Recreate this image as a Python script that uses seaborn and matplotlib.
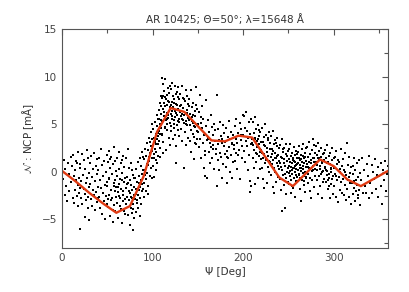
import matplotlib
matplotlib.use("Agg")
import matplotlib.pyplot as plt
from matplotlib.ticker import MultipleLocator
import seaborn as sns
import pandas as pd

# ---- scatter data (Psi [deg], NCP [mA]), per 10-degree bin ----
psi = [
    0.6, 1.8, 2.9, 3.7, 4.5, 5.6, 6.3, 7.4, 8.2, 9.5,
    10.3, 10.9, 11.7, 12.2, 12.8, 13.5, 14.1, 14.6, 15.2, 15.9,
    16.4, 16.9, 17.3, 17.8, 18.2, 18.7, 19.1, 19.4, 19.8, 19.9,
    20.4, 20.9, 21.5, 22.1, 22.6, 23.2, 23.8, 24.3, 24.9, 25.3,
    25.8, 26.3, 26.9, 27.4, 27.9, 28.4, 28.8, 29.2, 29.6, 29.9,
    30.3, 30.8, 31.3, 31.9, 32.4, 32.9, 33.5, 34.0, 34.6, 35.1,
    35.6, 36.2, 36.7, 37.3, 37.8, 38.3, 38.8, 39.2, 39.6, 39.9,
    40.2, 40.7, 41.3, 41.8, 42.4, 42.9, 43.5, 44.0, 44.6, 45.1,
    45.7, 46.2, 46.8, 47.3, 47.9, 48.4, 48.9, 49.3, 49.6, 49.9,
    50.2, 50.6, 51.1, 51.5, 52.0, 52.4, 52.9, 53.3, 53.8, 54.2,
    54.6, 55.1, 55.5, 56.0, 56.4, 56.9, 57.3, 57.8, 58.2, 58.6,
    59.0, 59.3, 59.6, 59.9, 55.8, 53.0, 51.8, 57.1, 58.9, 50.9,
    60.3, 60.7, 61.2, 61.6, 62.1, 62.5, 63.0, 63.4, 63.9, 64.3,
    64.7, 65.2, 65.6, 66.1, 66.5, 67.0, 67.4, 67.9, 68.3, 68.8,
    69.2, 69.6, 69.9, 61.9, 63.7, 65.9, 67.6, 62.8, 66.8, 68.6,
    70.2, 70.6, 71.1, 71.5, 72.0, 72.4, 72.9, 73.3, 73.8, 74.2,
    74.6, 75.1, 75.5, 76.0, 76.4, 76.9, 77.3, 77.8, 78.2, 78.6,
    79.0, 79.3, 79.6, 79.9, 71.8, 73.6, 75.7, 77.5, 78.9, 76.7,
    80.3, 80.7, 81.2, 81.6, 82.1, 82.5, 83.0, 83.4, 83.9, 84.3,
    84.7, 85.2, 85.6, 86.1, 86.5, 87.0, 87.4, 87.9, 88.3, 88.8,
    89.2, 89.6, 89.9, 81.4, 82.8, 84.9, 86.7, 88.1, 78.3, 86.3,
    90.2, 90.6, 91.1, 91.5, 92.0, 92.4, 92.9, 93.3, 93.8, 94.2,
    94.6, 95.1, 95.5, 96.0, 96.4, 96.9, 97.3, 97.8, 98.2, 98.6,
    99.0, 99.3, 99.6, 99.9, 91.8, 93.6, 95.8, 97.6, 98.9, 94.8,
    100.2, 100.5, 100.9, 101.2, 101.6, 101.9, 102.3, 102.6, 103.0, 103.3,
    103.7, 104.0, 104.4, 104.7, 105.1, 105.4, 105.8, 106.1, 106.5, 106.8,
    107.2, 107.5, 107.9, 108.2, 108.6, 108.9, 109.3, 109.6, 109.9, 101.4,
    102.8, 104.2, 105.6, 107.0, 108.4, 109.0, 103.5, 106.3, 108.0, 109.8,
    110.2, 110.5, 110.9, 111.2, 111.6, 111.9, 112.3, 112.6, 113.0, 113.3,
    113.7, 114.0, 114.4, 114.7, 115.1, 115.4, 115.8, 116.1, 116.5, 116.8,
    117.2, 117.5, 117.9, 118.2, 118.6, 118.9, 119.3, 119.6, 119.9, 110.8,
    111.4, 112.8, 114.2, 115.6, 117.0, 118.4, 119.0, 113.5, 116.3, 112.0,
    120.2, 120.5, 120.9, 121.2, 121.6, 121.9, 122.3, 122.6, 123.0, 123.3,
    123.7, 124.0, 124.4, 124.7, 125.1, 125.4, 125.8, 126.1, 126.5, 126.8,
    127.2, 127.5, 127.9, 128.2, 128.6, 128.9, 129.3, 129.6, 129.9, 121.0,
    122.0, 123.5, 124.9, 126.3, 127.7, 128.5, 120.7, 125.6, 129.1, 124.2,
    130.3, 130.7, 131.2, 131.6, 132.1, 132.5, 133.0, 133.4, 133.9, 134.3,
    134.7, 135.2, 135.6, 136.1, 136.5, 137.0, 137.4, 137.9, 138.3, 138.8,
    139.2, 139.6, 139.9, 131.4, 132.8, 134.9, 136.7, 138.1, 133.6, 137.6,
    140.3, 140.7, 141.2, 141.6, 142.1, 142.5, 143.0, 143.4, 143.9, 144.3,
    144.7, 145.2, 145.6, 146.1, 146.5, 147.0, 147.4, 147.9, 148.3, 148.8,
    149.2, 149.6, 149.9, 141.4, 142.8, 144.9, 146.7, 148.1, 143.6, 145.9,
    150.3, 150.8, 151.4, 151.9, 152.5, 153.0, 153.6, 154.1, 154.7, 155.2,
    155.8, 156.3, 156.9, 157.4, 158.0, 158.5, 159.1, 159.6, 157.8, 153.3,
    160.3, 160.8, 161.4, 161.9, 162.5, 163.0, 163.6, 164.1, 164.7, 165.2,
    165.8, 166.3, 166.9, 167.4, 168.0, 168.5, 169.1, 169.6, 162.2, 167.2,
    170.3, 170.8, 171.4, 171.9, 172.5, 173.0, 173.6, 174.1, 174.7, 175.2,
    175.8, 176.3, 176.9, 177.4, 178.0, 178.5, 179.1, 179.6, 172.2, 177.2,
    180.3, 180.8, 181.4, 181.9, 182.5, 183.0, 183.6, 184.1, 184.7, 185.2,
    185.8, 186.3, 186.9, 187.4, 188.0, 188.5, 189.1, 189.6, 182.2, 187.2,
    190.3, 190.8, 191.4, 191.9, 192.5, 193.0, 193.6, 194.1, 194.7, 195.2,
    195.8, 196.3, 196.9, 197.4, 198.0, 198.5, 199.1, 199.6, 192.2, 197.2,
    200.3, 200.8, 201.4, 201.9, 202.5, 203.0, 203.6, 204.1, 204.7, 205.2,
    205.8, 206.3, 206.9, 207.4, 208.0, 208.5, 209.1, 209.6, 208.8, 207.9,
    210.3, 210.7, 211.2, 211.6, 212.1, 212.5, 213.0, 213.4, 213.9, 214.3,
    214.7, 215.2, 215.6, 216.1, 216.5, 217.0, 217.4, 217.9, 218.3, 218.8,
    219.2, 219.6, 219.9, 211.4, 212.8, 214.9, 216.7, 218.1, 213.6, 217.6,
    220.3, 220.7, 221.2, 221.6, 222.1, 222.5, 223.0, 223.4, 223.9, 224.3,
    224.7, 225.2, 225.6, 226.1, 226.5, 227.0, 227.4, 227.9, 228.3, 228.8,
    229.2, 229.6, 229.9, 221.4, 222.8, 224.9, 226.7, 228.1, 223.6, 227.6,
    230.3, 230.7, 231.2, 231.6, 232.1, 232.5, 233.0, 233.4, 233.9, 234.3,
    234.7, 235.2, 235.6, 236.1, 236.5, 237.0, 237.4, 237.9, 238.3, 238.8,
    239.2, 239.6, 239.9, 231.4, 232.8, 234.9, 236.7, 238.1, 233.6, 237.6,
    240.3, 240.7, 241.2, 241.6, 242.1, 242.5, 243.0, 243.4, 243.9, 244.3,
    244.7, 245.2, 245.6, 246.1, 246.5, 247.0, 247.4, 247.9, 248.3, 248.8,
    249.2, 249.6, 249.9, 241.4, 242.8, 244.9, 246.7, 248.1, 243.6, 247.6,
    250.2, 250.5, 250.9, 251.2, 251.6, 251.9, 252.3, 252.6, 253.0, 253.3,
    253.7, 254.0, 254.4, 254.7, 255.1, 255.4, 255.8, 256.1, 256.5, 256.8,
    257.2, 257.5, 257.9, 258.2, 258.6, 258.9, 259.3, 259.6, 259.9, 250.8,
    251.8, 252.8, 254.2, 255.6, 257.0, 258.4, 259.0, 253.5, 256.3, 257.7,
    260.2, 260.5, 260.9, 261.2, 261.6, 261.9, 262.3, 262.6, 263.0, 263.3,
    263.7, 264.0, 264.4, 264.7, 265.1, 265.4, 265.8, 266.1, 266.5, 266.8,
    267.2, 267.5, 267.9, 268.2, 268.6, 268.9, 269.3, 269.6, 269.9, 260.8,
    261.8, 262.8, 264.2, 265.6, 267.0, 268.4, 269.0, 263.5, 266.3, 267.7,
    270.3, 270.7, 271.2, 271.6, 272.1, 272.5, 273.0, 273.4, 273.9, 274.3,
    274.7, 275.2, 275.6, 276.1, 276.5, 277.0, 277.4, 277.9, 278.3, 278.8,
    279.2, 279.6, 279.9, 271.4, 272.8, 274.9, 276.7, 278.1, 273.6, 277.6,
    280.3, 280.7, 281.2, 281.6, 282.1, 282.5, 283.0, 283.4, 283.9, 284.3,
    284.7, 285.2, 285.6, 286.1, 286.5, 287.0, 287.4, 287.9, 288.3, 288.8,
    289.2, 289.6, 289.9, 281.4, 282.8, 284.9, 286.7, 288.1, 283.6, 287.6,
    290.3, 290.7, 291.2, 291.6, 292.1, 292.5, 293.0, 293.4, 293.9, 294.3,
    294.7, 295.2, 295.6, 296.1, 296.5, 297.0, 297.4, 297.9, 298.3, 298.8,
    299.2, 299.6, 299.9, 291.4, 292.8, 294.9, 296.7, 298.1, 293.6, 297.6,
    300.3, 300.8, 301.4, 301.9, 302.5, 303.0, 303.6, 304.1, 304.7, 305.2,
    305.8, 306.3, 306.9, 307.4, 308.0, 308.5, 309.1, 309.6, 302.2, 307.2,
    310.3, 310.8, 311.4, 311.9, 312.5, 313.0, 313.6, 314.1, 314.7, 315.2,
    315.8, 316.3, 316.9, 317.4, 318.0, 318.5, 319.1, 319.6, 312.2, 317.2,
    320.3, 320.8, 321.4, 321.9, 322.5, 323.0, 323.6, 324.1, 324.7, 325.2,
    325.8, 326.3, 326.9, 327.4, 328.0, 328.5, 329.1, 329.6, 322.2, 327.2,
    330.6, 331.8, 332.9, 333.7, 334.9, 335.6, 336.8, 337.4, 338.6, 339.5,
    340.6, 341.8, 342.5, 343.7, 344.9, 345.6, 346.8, 347.4, 348.6, 349.5,
    350.6, 351.8, 352.5, 353.7, 354.9, 355.6, 356.8, 357.4, 358.6, 359.5,
]
ncp = [
    -0.8, 1.2, -2.4, 0.3, -1.5, -3.1, 0.9, -0.2, -2.0, 1.6,
    -1.1, 0.6, -2.8, 1.8, -0.4, -3.3, 0.2, -1.9, 1.1, -0.9,
    -2.5, 0.9, -1.4, -3.6, 2.1, -0.6, -2.2, 0.4, -6.0, -1.7,
    0.8, -2.7, -1.0, 1.9, -3.4, -0.3, -1.8, 1.2, -4.7, -2.3,
    0.3, -3.0, -1.2, 2.3, -0.7, -2.6, 1.4, -3.8, -0.1, -1.6,
    -5.1, -1.3, 0.9, -2.9, 1.7, -0.5, -3.6, -1.9, 0.3, -2.4,
    2.0, -1.0, -4.0, 0.6, -2.1, -0.2, -3.2, 1.3, -1.6, -2.8,
    0.2, -2.6, 1.5, -3.8, -0.9, 2.4, -1.7, -4.4, 0.7, -2.2,
    -0.4, -3.1, 1.1, -1.4, -5.0, 0.0, -2.5, 1.8, -1.1, -3.4,
    -1.5, 1.0, -3.7, -0.6, 2.2, -2.4, -4.6, 0.4, -1.9, -3.0,
    1.6, -0.2, -2.8, -5.3, 0.8, -1.2, -3.5, 2.6, -0.9, -2.0,
    -4.1, 0.1, -1.6, -2.6, -4.0, 1.3, -0.8, -1.5, 1.1, -2.9,
    -0.4, -3.3, 1.4, -2.1, -4.8, 0.3, -1.3, 2.1, -2.7, -0.8,
    -3.9, 0.9, -1.8, -5.4, -0.1, -2.4, 1.7, -3.1, -1.1, 0.5,
    -2.9, -4.4, -0.6, -1.6, -3.6, 1.2, -2.0, -2.5, -0.9, -4.1,
    -1.7, 1.5, -3.4, -0.5, -2.6, 2.4, -4.5, -1.2, 0.4, -3.0,
    -2.2, -5.6, -0.9, -3.8, 0.9, -1.9, -4.3, -2.8, -0.3, -3.4,
    -1.6, -4.8, -2.4, -0.7, -1.3, -2.0, -1.4, 0.2, -3.9, -2.6,
    -2.9, -0.6, -4.2, -1.8, 0.3, -3.3, -1.1, -2.4, 1.0, -3.8,
    -0.4, -1.9, -4.6, 1.4, -2.7, -0.9, 0.6, -2.0, 2.1, -1.3,
    0.2, -1.8, 1.6, -2.3, -3.0, -1.2, -3.4, -0.2, -6.1, -1.6,
    -1.2, 1.3, -2.6, 0.2, 2.4, -0.8, -2.0, 1.7, -0.1, 3.0,
    0.7, -1.5, 2.3, 1.1, 3.6, -0.4, 2.0, 0.4, 4.2, 2.7,
    1.4, 3.4, 5.0, 2.2, -0.3, 0.8, 1.6, 3.1, -0.6, -2.3,
    2.8, 0.6, 4.5, 1.9, 3.6, -0.5, 2.4, 5.2, 3.1, 1.2,
    4.0, 2.1, 6.0, 3.5, 0.9, 4.8, 2.9, 5.6, 1.7, 4.3,
    6.5, 3.2, 5.0, 7.2, 2.5, 4.6, 6.1, 8.0, 3.9, 1.5,
    3.3, 2.9, 4.1, 5.6, 4.0, 6.9, 0.2, 3.8, 1.6, 5.4,
    5.3, 7.8, 4.0, 6.6, 9.2, 3.1, 7.2, 5.9, 8.5, 4.6,
    6.9, 9.7, 5.4, 7.6, 2.3, 8.1, 6.2, 4.4, 7.0, 8.8,
    5.7, 7.4, 3.6, 6.4, 8.3, 5.1, 6.8, 9.0, 4.8, 9.9,
    2.0, 6.3, 4.7, 5.6, 6.0, 7.3, 2.8, 7.9, 5.0, 8.0,
    6.1, 8.7, 4.3, 7.3, 5.5, 9.3, 3.4, 6.8, 8.0, 5.0,
    7.6, 4.6, 6.4, 9.0, 5.8, 2.7, 7.1, 0.9, 6.0, 8.4,
    4.9, 7.0, 5.3, 8.9, 6.6, 3.8, 7.7, 5.6, 6.9, 6.4,
    5.9, 7.2, 3.9, 6.2, 7.9, 4.4, 7.0, 8.2, 5.2, 5.4,
    6.3, 8.2, 4.5, 7.0, 5.6, 9.0, 3.2, 6.7, 7.8, 5.1,
    0.4, 6.0, 4.2, 7.4, 5.3, 8.6, 2.8, 6.5, 4.9, 7.1,
    5.7, 3.6, 6.9, 5.9, 6.1, 7.6, 5.0, 8.0, 5.4, 6.2,
    5.4, 7.7, 3.2, 6.1, 4.4, 8.6, 2.1, 5.8, 6.8, 4.0,
    5.1, 7.2, 3.7, 1.3, 6.4, 4.7, 5.9, 2.9, 8.9, 4.3,
    6.6, 3.5, 5.0, 4.9, 5.5, 6.0, 3.0, 7.0, 5.3, 4.8,
    4.2, 6.3, 2.6, 8.1, 3.5, 5.1, 1.4, 4.6, 6.9, 3.0,
    5.5, 0.4, 3.9, 2.2, -0.4, 4.8, 7.5, 3.3, 1.8, 5.8,
    -0.7, 3.6, 5.4, 2.1, 4.2, 0.9, 3.0, 6.0, 2.6, 4.7,
    1.5, 3.9, 2.4, 5.0, 0.3, 3.2, 4.4, 1.9, 3.4, 2.8,
    2.4, 8.1, -1.5, 4.5, 1.2, 3.3, 0.2, 5.2, 2.0, 3.8,
    1.6, -0.6, 3.0, 4.9, 0.8, 2.7, 4.1, 1.9, 2.9, 3.5,
    3.1, 0.5, 4.6, 2.2, -1.2, 3.7, 1.4, 5.3, 2.6, 0.0,
    3.4, 1.8, 4.2, -0.7, 2.9, 1.0, 3.9, 2.4, 1.6, 3.0,
    2.8, 4.8, 1.1, 3.5, 5.6, 0.3, 3.0, 4.1, 1.8, 3.8,
    2.3, 5.1, -0.8, 3.3, 4.5, 1.5, 2.7, 6.0, 2.0, 3.9,
    3.9, 5.9, 2.2, 4.6, 1.0, 3.2, 6.3, 2.7, 4.3, 0.2,
    3.6, 5.2, 1.8, 4.0, -1.0, 2.9, 5.6, 3.4, -1.5, -2.1,
    3.0, 5.2, 1.4, 4.1, 2.3, 0.4, 3.6, 5.8, 2.0, 4.5,
    1.0, 3.2, 2.6, 4.9, -0.6, 2.9, 1.7, 3.8, 0.3, 2.4,
    4.2, 1.3, 3.1, 2.8, 3.4, 1.9, 3.5, 2.1, -1.3, 4.4,
    2.3, 4.6, 0.4, 3.1, 1.5, -0.8, 3.7, 1.9, 5.0, 0.9,
    2.7, 1.2, 3.9, -1.2, 2.1, 0.5, 3.3, 1.7, 4.2, 0.0,
    2.4, 1.0, 3.0, 2.0, 2.8, 1.4, 2.5, 1.1, -1.7, 3.6,
    1.6, 3.8, -0.3, 2.4, 0.8, 4.3, 1.2, -1.6, 2.9, 0.4,
    2.0, 3.3, 0.0, 1.5, -1.1, 2.7, 0.9, 3.6, 1.8, -0.5,
    1.1, 2.5, 0.3, 1.9, 2.2, 1.4, 3.0, 0.6, -2.2, 1.7,
    0.9, 2.8, -0.8, 1.6, -1.9, 3.4, 0.2, -4.1, 2.1, -0.3,
    1.3, -1.4, 2.5, -3.8, 0.6, 1.9, -0.6, 2.9, 0.0, 1.1,
    -1.1, 2.2, 0.4, 0.5, 1.4, 0.9, -0.2, 1.7, 2.4, -2.3,
    0.6, 2.4, -1.3, 1.3, -0.4, 2.9, 0.1, -2.2, 1.7, -0.9,
    0.9, 2.0, -0.2, 1.5, -1.7, 0.4, 2.6, -0.7, 1.1, 0.0,
    -2.6, 1.8, 0.7, -1.0, 2.2, 0.3, -0.5, 1.4, 0.8, -0.1,
    1.0, 0.5, 0.2, 1.2, 0.6, -0.3, 1.9, -1.5, 0.4, 1.0,
    0.2, 2.1, -1.0, 1.5, -0.3, 2.7, 0.7, -1.8, 1.2, -0.6,
    1.8, -3.1, 0.4, 2.4, -0.9, 1.0, -0.1, 2.9, 0.6, -1.4,
    1.4, -0.4, 2.0, 0.0, -2.1, 1.1, 0.5, 2.5, -0.7, 0.9,
    -0.2, 0.4, 1.3, 0.3, 0.9, 1.6, -0.5, 0.1, 1.7, -1.0,
    0.8, 2.6, -1.2, 1.6, -0.2, 3.1, 0.4, -2.0, 1.9, -0.7,
    1.2, -2.8, 0.1, 2.3, -0.9, 1.5, 0.6, 2.8, -1.6, 1.0,
    0.3, 2.0, -0.4, 0.5, 1.0, 0.9, 0.2, 1.4, -0.6, 3.4,
    1.0, 2.7, -0.9, 1.8, 0.2, 3.0, -2.3, 1.3, -0.4, 2.2,
    0.6, -1.5, 1.6, 2.5, -0.2, 0.9, -2.8, 1.9, 0.1, 1.2,
    -0.8, 2.0, 0.4, 0.7, 1.4, 0.3, 1.1, -1.1, 1.5, 0.0,
    0.5, 2.3, -1.1, 1.4, -0.3, 2.8, 0.1, -1.8, 1.0, -0.6,
    1.7, -0.2, 0.8, -2.7, 2.0, -1.3, 0.4, 1.2, -0.8, -2.3,
    0.6, -0.4, 1.5, 0.2, 0.9, -1.5, 0.3, 2.5, -0.9, 0.0,
    0.4, -1.5, 1.6, -0.2, 2.2, -2.6, 0.8, -0.9, 1.2, -3.2,
    -0.5, 1.0, -1.9, 0.3, 2.4, -1.1, 0.6, -2.2, -0.4, 0.0,
    -0.8, 1.3, -2.4, 0.2, -1.4, 2.0, -3.0, -0.3, 3.0, -1.8,
    0.7, -0.9, 1.6, -2.6, -0.1, -1.2, 0.5, -3.4, 0.0, -0.5,
    -1.2, 0.6, -2.3, -0.2, 1.5, -1.7, -3.1, 0.2, -0.9, -2.0,
    0.9, -1.4, -2.8, -0.5, 1.2, -1.9, -0.1, -3.5, -1.0, -2.4,
    -0.9, 1.4, -2.2, 0.2, -1.5, -2.2, 0.8, -0.4, -2.8, 1.7,
    -1.2, 0.7, -2.2, 0.0, -0.8, 1.3, -1.8, -0.3, -2.6, 0.5,
    -0.4, 0.9, -1.5, -3.4, 0.2, -0.9, 1.1, -2.0, -0.2, 0.6,
]

# ---- binned mean curve (red) ----
curve_psi = [0, 15, 30, 45, 60, 75, 90, 105, 120, 135, 150, 165, 180,
             195, 210, 225, 240, 255, 270, 285, 300, 315, 330, 345, 360]
curve_ncp = [0.1, -1.0, -2.2, -3.3, -4.3, -3.6, -0.5, 4.2, 6.7, 6.3, 4.8, 3.3, 3.2,
             3.8, 3.6, 1.5, -0.6, -1.5, -0.1, 1.3, 0.6, -0.8, -1.5, -0.7, 0.1]

title = "AR 10425; \u0398=50\u00b0; \u03bb=15648 \u00c5"
xlabel = "\u03a8 [Deg]"
ylabel = "$\\mathcal{N}$ : NCP [m\u00c5]"
xticks = [0, 100, 200, 300]
yticks = [-5, 0, 5, 10, 15]

sns.set_theme(style="white")
plt.rcParams["font.family"] = ["DejaVu Sans"]

pts = pd.DataFrame({"psi": psi, "ncp": ncp})
crv = pd.DataFrame({"psi": curve_psi, "ncp": curve_ncp})

fig = plt.figure(figsize=(4.09, 2.92), dpi=100)
ax = fig.add_axes([62 / 409, 44 / 292, 326 / 409, 219 / 292])

sns.scatterplot(data=pts, x="psi", y="ncp", ax=ax, color="black", marker="s",
                s=3.0, linewidth=0, legend=False)
sns.lineplot(data=crv, x="psi", y="ncp", ax=ax, color="#e03a12", lw=1.7,
             legend=False)

ax.set_xlim(0, 360)
ax.set_ylim(-8, 15)
ax.set_xticks(xticks)
ax.set_yticks(yticks)
ax.xaxis.set_minor_locator(MultipleLocator(50))
ax.yaxis.set_minor_locator(MultipleLocator(2.5))
ax.tick_params(which="both", direction="in", top=True, right=True,
               colors="#555555", labelcolor="#444444", labelsize=7.5, width=0.8)
ax.tick_params(which="major", length=4)
ax.tick_params(which="minor", length=3)
for sp in ax.spines.values():
    sp.set_color("#555555")
    sp.set_linewidth(0.8)

ax.set_title(title, fontsize=7.5, color="#333333", pad=4)
ax.set_xlabel(xlabel, fontsize=7.5, color="#333333", labelpad=3)
ax.set_ylabel(ylabel, fontsize=7.5, color="#333333", labelpad=4)

fig.savefig("out.png", dpi=100)
